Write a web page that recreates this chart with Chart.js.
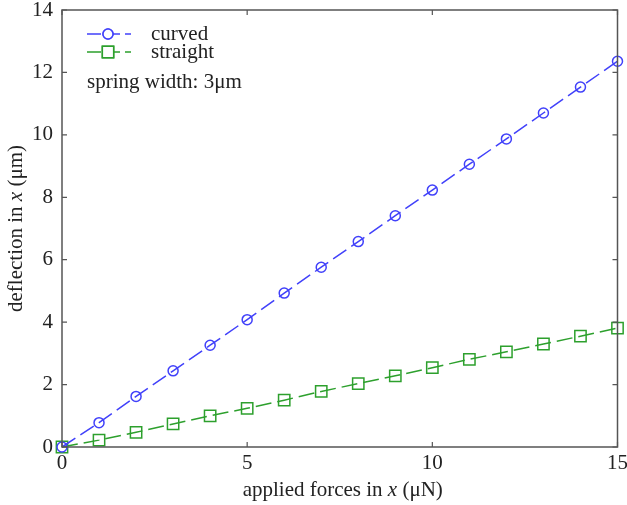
<!DOCTYPE html>
<html>
<head>
<meta charset="utf-8">
<script src="https://cdn.jsdelivr.net/npm/chart.js@4"></script>
<style>html,body{margin:0;background:#fff}</style>
</head>
<body>
<div style="width:627px;height:505px"><canvas id="chart"></canvas></div>
<script>
// applied force (uN) and deflection (um)
const forces   = [0, 1, 2, 3, 4, 5, 6, 7, 8, 9, 10, 11, 12, 13, 14, 15];
const curved   = [0, 0.78, 1.62, 2.44, 3.26, 4.08, 4.93, 5.76, 6.58, 7.41, 8.23, 9.06, 9.87, 10.7, 11.53, 12.36];
const straight = [0, 0.22, 0.47, 0.74, 1.0, 1.24, 1.5, 1.78, 2.03, 2.28, 2.54, 2.81, 3.05, 3.3, 3.55, 3.81];
const xTicks = [0, 5, 10, 15];
const yTicks = [0, 2, 4, 6, 8, 10, 12, 14];

const BLUE = 'rgb(65, 65, 250)';
const GREEN = 'rgb(45, 160, 45)';
const AXIS = '#555';
const FONT = 'Liberation Serif, Times New Roman, serif';
const SIZE = 21;

function toPoints(xs, ys) {
    return xs.map((x, i) => ({ x: x, y: ys[i] }));
}

// draws text pieces one after another, some of them italic
function mixedText(ctx, parts, size) {
    let total = 0;
    parts.forEach(p => {
        ctx.font = (p[1] ? 'italic ' : '') + size + 'px ' + FONT;
        total += ctx.measureText(p[0]).width;
    });
    let x = -total / 2;
    parts.forEach(p => {
        ctx.font = (p[1] ? 'italic ' : '') + size + 'px ' + FONT;
        ctx.fillText(p[0], x, 0);
        x += ctx.measureText(p[0]).width;
    });
}

const axesPlugin = {
    id: 'axes',
    afterDraw(chart) {
        const ctx = chart.ctx;
        const a = chart.chartArea;
        const xs = chart.scales.x, ys = chart.scales.y;
        ctx.save();

        // box
        ctx.strokeStyle = AXIS;
        ctx.lineWidth = 1.5;
        ctx.strokeRect(a.left, a.top, a.right - a.left, a.bottom - a.top);

        // inward ticks on all sides
        ctx.lineWidth = 1.2;
        ctx.beginPath();
        xTicks.forEach(v => {
            const px = xs.getPixelForValue(v);
            ctx.moveTo(px, a.bottom); ctx.lineTo(px, a.bottom - 5);
            ctx.moveTo(px, a.top); ctx.lineTo(px, a.top + 5);
        });
        yTicks.forEach(v => {
            const py = ys.getPixelForValue(v);
            ctx.moveTo(a.left, py); ctx.lineTo(a.left + 5, py);
            ctx.moveTo(a.right, py); ctx.lineTo(a.right - 5, py);
        });
        ctx.stroke();

        // tick labels
        ctx.fillStyle = '#222';
        ctx.font = SIZE + 'px ' + FONT;
        ctx.textAlign = 'center';
        ctx.textBaseline = 'middle';
        xTicks.forEach(v => ctx.fillText(String(v), xs.getPixelForValue(v), a.bottom + 16));
        ctx.textAlign = 'right';
        yTicks.forEach(v => ctx.fillText(String(v), a.left - 9, ys.getPixelForValue(v)));

        // axis titles
        ctx.textAlign = 'left';
        ctx.save();
        ctx.translate((a.left + a.right) / 2 + 3, a.bottom + 43);
        mixedText(ctx, [['applied forces in ', false], ['x', true], [' (\u03bcN)', false]], SIZE);
        ctx.restore();
        ctx.save();
        ctx.translate(16, (a.top + a.bottom) / 2);
        ctx.rotate(-Math.PI / 2);
        mixedText(ctx, [['deflection in ', false], ['x', true], [' (\u03bcm)', false]], SIZE);
        ctx.restore();

        // legend
        const rows = [
            { label: 'curved', color: BLUE, style: 'circle', r: 5, y: 34 },
            { label: 'straight', color: GREEN, style: 'rect', r: 8, y: 52 }
        ];
        rows.forEach(row => {
            ctx.strokeStyle = row.color;
            ctx.lineWidth = 1.5;
            ctx.setLineDash([14, 5]);
            ctx.beginPath();
            ctx.moveTo(87, row.y); ctx.lineTo(131, row.y);
            ctx.stroke();
            ctx.setLineDash([]);
            ctx.fillStyle = '#fff';
            Chart.helpers.drawPoint(ctx, { pointStyle: row.style, radius: row.r, borderWidth: 1.5 }, 108, row.y);
            ctx.fill();
            ctx.stroke();
            ctx.fillStyle = '#222';
            ctx.font = SIZE + 'px ' + FONT;
            ctx.textAlign = 'left';
            ctx.fillText(row.label, 151, row.y);
        });
        ctx.fillText('spring width: 3\u03bcm', 87, 82);

        ctx.restore();
    }
};

const data = {
    datasets: [{
            label: 'curved',
            data: toPoints(forces, curved),
            borderColor: BLUE,
            backgroundColor: 'rgba(0,0,0,0)',
            borderWidth: 1.5,
            borderDash: [16, 6],
            pointStyle: 'circle',
            pointRadius: 5,
            pointBorderWidth: 1.5,
            clip: false
        }, {
            label: 'straight',
            data: toPoints(forces, straight),
            borderColor: GREEN,
            backgroundColor: 'rgba(0,0,0,0)',
            borderWidth: 1.5,
            borderDash: [16, 6],
            pointStyle: 'rect',
            pointRadius: 8,
            pointBorderWidth: 1.5,
            clip: false
        }]
};

const config = {
    type: 'line',
    data: data,
    options: {
        responsive: true,
        maintainAspectRatio: false,
        animation: false,
        layout: { padding: { left: 62, right: 6, top: 10, bottom: 58 } },
        plugins: { legend: { display: false }, tooltip: { enabled: false } },
        scales: {
            x: { type: 'linear', min: 0, max: 15, display: false },
            y: { type: 'linear', min: 0, max: 14, display: false }
        }
    },
    plugins: [axesPlugin]
};

new Chart(document.getElementById('chart').getContext('2d'), config);
</script>
</body>
</html>
